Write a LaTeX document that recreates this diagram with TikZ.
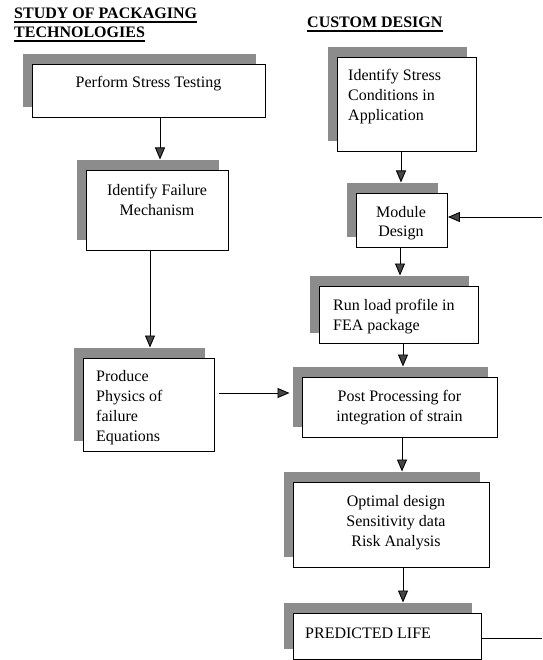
\documentclass[tikz,border=0pt]{standalone}
\usepackage{fontspec}
\setmainfont{Liberation Serif}
\usetikzlibrary{arrows.meta,calc}
\definecolor{shadegray}{RGB}{140,140,140}
\definecolor{headgray}{RGB}{70,70,70}
\tikzset{
  shadowbox/.style={fill=shadegray, draw=none, inner sep=0pt, anchor=north west},
  frontbox/.style={fill=white, draw=black, line width=0.9pt, inner sep=0pt, anchor=north west},
  txt/.style={inner sep=0pt, font=\fontsize{16}{20}\selectfont},
  hdr/.style={inner sep=0pt, font=\fontsize{16}{20}\selectfont\bfseries, anchor=base west},
  uline/.style={line width=1.2pt},
  arr/.style={line width=0.9pt, -{Triangle[length=12pt,width=10pt,fill=headgray]}},
  conn/.style={line width=0.9pt}
}
\newcommand\mkbox[5]{%
  \node[shadowbox, minimum width={(#4-#2)*1pt}, minimum height={(#5-#3)*1pt}] (s#1) at (#2-9.5,#3-10.5) {};
  \node[frontbox, minimum width={(#4-#2)*1pt}, minimum height={(#5-#3)*1pt}] (b#1) at (#2,#3) {};
}
\begin{document}
\begin{tikzpicture}[x=1pt,y=-1pt]
\useasboundingbox (0,0) rectangle (542,660);
% headers
\node[hdr] (h1) at (14,19) {STUDY OF PACKAGING};
\node[hdr] (h2) at (14,38) {TECHNOLOGIES};
\node[hdr] (h3) at (307,28) {CUSTOM DESIGN};
\draw[uline] ([yshift=-3pt]h1.base west) -- ([yshift=-3pt]h1.base east);
\draw[uline] ([yshift=-3pt]h2.base west) -- ([yshift=-3pt]h2.base east);
\draw[uline] ([yshift=-3pt]h3.base west) -- ([yshift=-3pt]h3.base east);
% boxes
\mkbox{1}{32}{64}{265}{117}
\mkbox{2}{86}{170}{228}{250}
\mkbox{3}{83}{358}{214}{451}
\mkbox{4}{337}{57}{476}{151}
\mkbox{5}{356}{193}{447}{247}
\mkbox{6}{319}{286}{478}{343}
\mkbox{7}{302}{377}{497}{437}
\mkbox{8}{293}{482}{489}{567}
\mkbox{9}{293}{613}{481}{659}
% texts
\node[txt, anchor=base] (t1) at (148.5,88) {Perform Stress Testing};
\node[txt, anchor=base] (t2) at (157,196) {\begin{tabular}[t]{@{}c@{}}Identify Failure\\Mechanism\end{tabular}};
\node[txt, anchor=base west] (t3) at (96,381) {\begin{tabular}[t]{@{}l@{}}Produce\\Physics of\\failure\\Equations\end{tabular}};
\node[txt, anchor=base west] (t4) at (348,81) {\begin{tabular}[t]{@{}l@{}}Identify Stress\\Conditions in\\Application\end{tabular}};
\node[txt, anchor=base] (t5) at (401,217) {\begin{tabular}[t]{@{}c@{}}Module\\Design\end{tabular}};
\node[txt, anchor=base west] (t6) at (333,310) {\begin{tabular}[t]{@{}l@{}}Run load profile in\\FEA package\end{tabular}};
\node[txt, anchor=base] (t7) at (399.5,401) {\begin{tabular}[t]{@{}c@{}}Post Processing for\\integration of strain\end{tabular}};
\node[txt, anchor=base] (t8) at (396,506) {\begin{tabular}[t]{@{}c@{}}Optimal design\\Sensitivity data\\Risk Analysis\end{tabular}};
\node[txt, anchor=base west] (t9) at (305,638) {PREDICTED LIFE};
% connectors
\draw[arr] (160,0 |- b1.south) -- (160,0 |- s2.north);
\draw[arr] (150,0 |- b2.south) -- (150,0 |- s3.north);
\draw[arr] (401,0 |- b4.south) -- (401,0 |- s5.north);
\draw[arr] (400,0 |- b5.south) -- (400,0 |- s6.north);
\draw[arr] (403,0 |- b6.south) -- (403,0 |- s7.north);
\draw[arr] (402,0 |- b7.south) -- (402,0 |- s8.north);
\draw[arr] (403,0 |- b8.south) -- (403,0 |- s9.north);
\draw[arr] ($(b3.east |- 0,393)+(4,0)$) -- ($(s7.west |- 0,393)+(-3,0)$);
\coordinate (fb1) at (542,638);
\coordinate (fb2) at (542,217);
\draw[conn] (b9.east |- fb1) -- (fb1);
\draw[arr] (fb2) -- (b5.east |- fb2);
\end{tikzpicture}
\end{document}
